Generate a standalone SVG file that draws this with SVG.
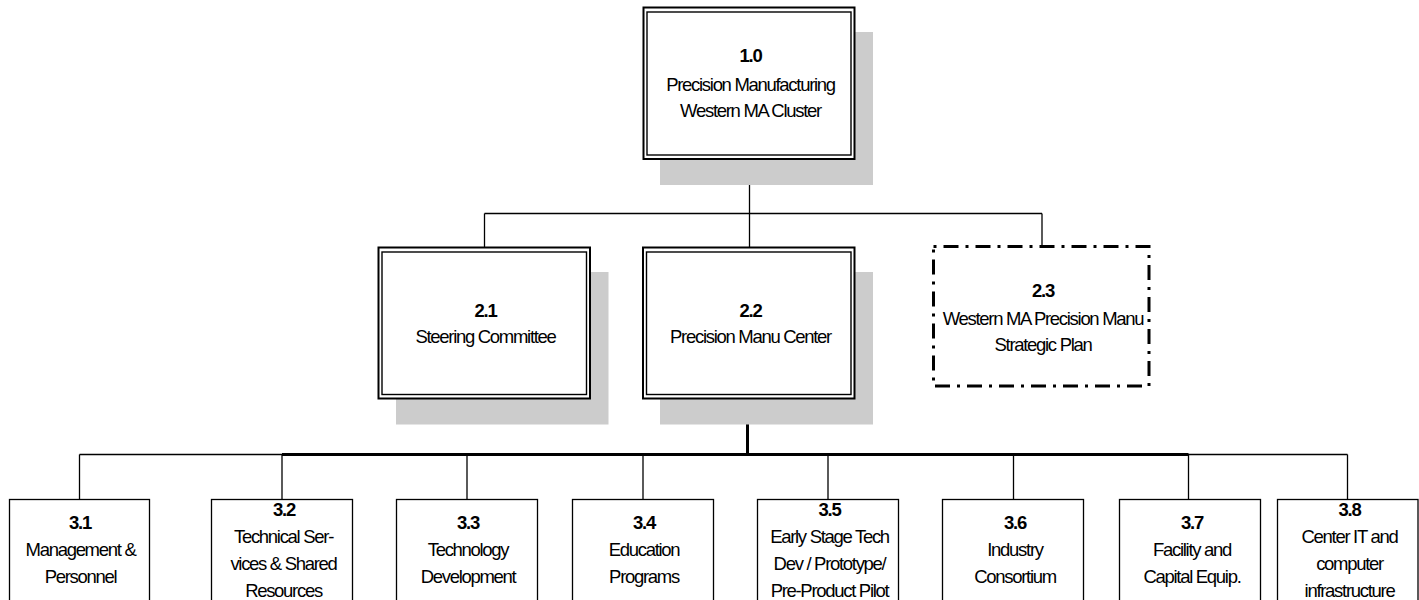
<svg xmlns="http://www.w3.org/2000/svg" width="1419" height="600" viewBox="0 0 1419 600">
<style>
text{font-family:"Liberation Sans",Arial,sans-serif;font-size:18.5px;letter-spacing:-1.3px;text-anchor:middle;fill:#000}
.n{font-weight:bold}
.sh{fill:#cccccc;stroke:none}
.ob{fill:#fff;stroke:#000;stroke-width:2}
.ib{fill:none;stroke:#000;stroke-width:1.4}
.dd{fill:#fff;stroke:#000;stroke-width:3;stroke-dasharray:3 7 15 7}
.bx{fill:#fff;stroke:#000;stroke-width:1.3}
.c{stroke:#000;stroke-width:1.3;fill:none}
.ct{stroke:#000;stroke-width:3;fill:none}
</style>
<g id="connectors">
<line class="c" x1="749.5" y1="159" x2="749.5" y2="248"/>
<line class="c" x1="484.5" y1="213.5" x2="1042" y2="213.5"/>
<line class="c" x1="484.5" y1="213.5" x2="484.5" y2="248"/>
<line class="c" x1="1042" y1="213.5" x2="1042" y2="246"/>
<line class="ct" x1="747.5" y1="394.5" x2="747.5" y2="455"/>
<line class="c" x1="79.5" y1="454.5" x2="1347.5" y2="454.5"/>
<line class="ct" x1="282" y1="454.5" x2="1188.5" y2="454.5"/>
<line class="c" x1="79.5" y1="454.5" x2="79.5" y2="499.5"/>
<line class="c" x1="282" y1="454.5" x2="282" y2="499.5"/>
<line class="c" x1="467" y1="454.5" x2="467" y2="499.5"/>
<line class="c" x1="643" y1="454.5" x2="643" y2="499.5"/>
<line class="c" x1="828" y1="454.5" x2="828" y2="499.5"/>
<line class="c" x1="1013.5" y1="454.5" x2="1013.5" y2="499.5"/>
<line class="c" x1="1188.5" y1="454.5" x2="1188.5" y2="499.5"/>
<line class="c" x1="1347.5" y1="454.5" x2="1347.5" y2="499.5"/>
</g>
<g id="n1_0">
<rect class="sh" x="660" y="32" width="213" height="153"/>
<rect class="ob" x="643.5" y="7.5" width="211" height="151.5"/>
<rect class="ib" x="647" y="12" width="204" height="143"/>
<text class="n" x="750.5" y="62">1.0</text>
<text x="750.5" y="90.5">Precision Manufacturing</text>
<text x="750.5" y="117">Western MA Cluster</text>
</g>
<g id="n2_1">
<rect class="sh" x="396" y="272" width="212.5" height="152.5"/>
<rect class="ob" x="378.5" y="247.5" width="211.5" height="151"/>
<rect class="ib" x="382" y="252" width="204.5" height="142.5"/>
<text class="n" x="485.5" y="317">2.1</text>
<text x="485.5" y="343">Steering Committee</text>
</g>
<g id="n2_2">
<rect class="sh" x="660" y="272" width="213" height="152.5"/>
<rect class="ob" x="643" y="247.5" width="211.5" height="151"/>
<rect class="ib" x="646.5" y="252" width="204.5" height="142.5"/>
<text class="n" x="750.5" y="317">2.2</text>
<text x="750.5" y="343">Precision Manu Center</text>
</g>
<g id="n2_3">
<rect class="dd" x="933.5" y="246.5" width="215.5" height="139.5"/>
<text class="n" x="1043" y="296.5">2.3</text>
<text x="1043" y="325">Western MA Precision Manu</text>
<text x="1043" y="351">Strategic Plan</text>
</g>
<g id="n3_1">
<rect class="bx" x="9.5" y="499.5" width="140" height="110"/>
<text class="n" x="80" y="529">3.1</text>
<text x="80.5" y="556">Management &amp;</text>
<text x="80.5" y="583">Personnel</text>
</g>
<g id="n3_2">
<rect class="bx" x="211.5" y="499.5" width="141" height="110"/>
<text class="n" x="284" y="516">3.2</text>
<text x="283.5" y="543">Technical Ser-</text>
<text x="283.5" y="570">vices &amp; Shared</text>
<text x="283.5" y="597">Resources</text>
</g>
<g id="n3_3">
<rect class="bx" x="396.5" y="499.5" width="141" height="110"/>
<text class="n" x="468" y="529">3.3</text>
<text x="468" y="556">Technology</text>
<text x="468" y="583">Development</text>
</g>
<g id="n3_4">
<rect class="bx" x="572.5" y="499.5" width="141" height="110"/>
<text class="n" x="644" y="529">3.4</text>
<text x="644" y="556">Education</text>
<text x="644" y="583">Programs</text>
</g>
<g id="n3_5">
<rect class="bx" x="757.5" y="499.5" width="141" height="110"/>
<text class="n" x="829.5" y="516">3.5</text>
<text x="829.5" y="543">Early Stage Tech</text>
<text x="829.5" y="570">Dev / Prototype/</text>
<text x="829.5" y="597">Pre-Product Pilot</text>
</g>
<g id="n3_6">
<rect class="bx" x="942.5" y="499.5" width="141" height="110"/>
<text class="n" x="1015" y="529">3.6</text>
<text x="1015" y="556">Industry</text>
<text x="1015" y="583">Consortium</text>
</g>
<g id="n3_7">
<rect class="bx" x="1119.5" y="499.5" width="141" height="110"/>
<text class="n" x="1192" y="529">3.7</text>
<text x="1192" y="556">Facility and</text>
<text x="1192" y="583">Capital Equip.</text>
</g>
<g id="n3_8">
<rect class="bx" x="1277.5" y="499.5" width="140.5" height="110"/>
<text class="n" x="1349.5" y="516">3.8</text>
<text x="1349.5" y="543">Center IT and</text>
<text x="1349.5" y="570">computer</text>
<text x="1349.5" y="597">infrastructure</text>
</g>
</svg>
